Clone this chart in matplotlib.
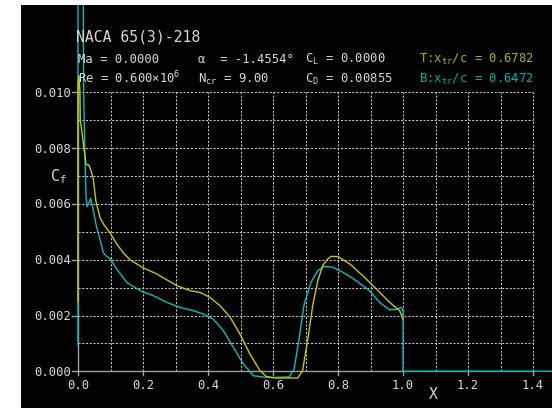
import matplotlib
matplotlib.use("Agg")
from matplotlib import pyplot as plt

plt.rcParams["font.family"] = ["DejaVu Sans Mono", "DejaVu Sans"]
plt.rcParams["mathtext.fontset"] = "custom"
plt.rcParams["mathtext.rm"] = "DejaVu Sans Mono"
plt.rcParams["mathtext.it"] = "DejaVu Sans Mono"

# skin friction, top surface (yellow)
x_top = [0.0, 0.0, 0.003, 0.006, 0.007, 0.012, 0.018, 0.025, 0.033, 0.040, 0.047,
         0.055, 0.068, 0.080, 0.098, 0.120, 0.139, 0.160, 0.200, 0.242, 0.270,
         0.304, 0.345, 0.375, 0.406, 0.437, 0.468, 0.498, 0.529, 0.560, 0.580,
         0.609, 0.640, 0.676, 0.691, 0.708, 0.723, 0.738, 0.753, 0.768, 0.779,
         0.800, 0.836, 0.876, 0.918, 0.959, 0.990, 1.000]
cf_top = [0.0025, 0.0103, 0.0106, 0.0100, 0.0090, 0.0086, 0.0080, 0.0074, 0.0074,
          0.0072, 0.0069, 0.0061, 0.0055, 0.00525, 0.00497, 0.00455, 0.00425,
          0.00400, 0.00371, 0.00349, 0.00330, 0.00307, 0.00289, 0.00283, 0.00265,
          0.00235, 0.00194, 0.00134, 0.00062, 0.00002, -0.00019, -0.00024,
          -0.00024, -0.00024, 0.00002, 0.00122, 0.00241, 0.00325, 0.00379,
          0.00402, 0.00412, 0.00411, 0.00385, 0.00343, 0.00295, 0.00247,
          0.00217, 0.00187]

# skin friction, bottom surface + wake (cyan)
x_bot = [0.0, 0.0, 0.016, 0.017, 0.019, 0.022, 0.025, 0.028, 0.032, 0.036, 0.039,
         0.043, 0.047, 0.057, 0.068, 0.078, 0.088, 0.098, 0.119, 0.150, 0.191,
         0.232, 0.273, 0.314, 0.355, 0.386, 0.416, 0.447, 0.478, 0.509, 0.540,
         0.580, 0.609, 0.650, 0.665, 0.681, 0.696, 0.717, 0.738, 0.758, 0.784,
         0.815, 0.856, 0.897, 0.928, 0.959, 0.980, 0.995, 1.0, 1.0, 1.5]
cf_bot = [0.00095, 0.0160, 0.0160, 0.0105, 0.0090, 0.0075, 0.0062, 0.0059, 0.0060,
          0.0061, 0.0062, 0.0060, 0.0058, 0.00518, 0.00471, 0.00425, 0.00412,
          0.00405, 0.00367, 0.00319, 0.00289, 0.00271, 0.00247, 0.00229, 0.00217,
          0.00205, 0.00187, 0.00146, 0.00086, 0.00026, -0.00016, -0.00022,
          -0.00022, -0.0002, 0.00008, 0.00122, 0.00241, 0.00319, 0.00361,
          0.00376, 0.00373, 0.00355, 0.00325, 0.00289, 0.00247, 0.0022, 0.00222,
          0.00229, 0.00217, 0.0, 0.0]

x_grid = [i / 10 for i in range(0, 15)]
y_grid = [i / 1000 for i in range(0, 11)]
x_labels = ["0.0", "0.2", "0.4", "0.6", "0.8", "1.0", "1.2", "1.4"]
y_labels = ["0.000", "0.002", "0.004", "0.006", "0.008", "0.010"]

yellow = "#c8c800"
cyan = "#00c0c0"
txt = "#d8d8d8"
grid_c = "#c8c8c8"

W, H = 552, 408
fig = plt.figure(figsize=(W / 100, H / 100), dpi=100, facecolor="white")
ax = fig.add_axes([21 / W, 0, (W - 21) / W, (H - 5) / H])
ax.set_facecolor("black")
ax.set_xlim((21 - 78) / 325, (W - 78) / 325)
ax.set_ylim(-(408 - 371.3) / 27.9e3, (371.3 - 5) / 27.9e3)
ax.set_xticks([])
ax.set_yticks([])
for sp in ax.spines.values():
    sp.set_visible(False)

# dotted grid
for gx in x_grid[1:]:
    ax.plot([gx, gx], [0, 0.010], color=grid_c, lw=0.75, dashes=(2, 1.6))
for gy in y_grid[1:]:
    ax.plot([0, 1.4], [gy, gy], color=grid_c, lw=0.75, dashes=(2, 1.6))

# axes lines and ticks
ax.plot([0, 1.4], [0, 0], color="#a0a0a0", lw=1.0)
ax.plot([0, 0], [0, 0.010], color="#a0a0a0", lw=1.0)
for i, lab in enumerate(y_labels):
    yv = i * 0.002
    ax.plot([-0.018, 0], [yv, yv], color="#a0a0a0", lw=1.0)
    ax.text(-0.0215, yv - 0.00016, lab, color=txt, fontsize=8.8,
            ha="right", va="baseline")
for i, lab in enumerate(x_labels):
    xv = i * 0.2
    ax.plot([xv, xv], [0, -0.00012], color="#a0a0a0", lw=1.0)
    ax.text(xv, -0.000645, lab, color=txt, fontsize=8.8, ha="center", va="baseline")

# Cf curves
ax.plot(x_bot, cf_bot, color=cyan, lw=1.0)
ax.plot(x_top, cf_top, color=yellow, lw=1.0)

ax.text(-0.0855, 0.0068, "C$_\\mathrm{f}$", color=txt, fontsize=10.6, va="baseline")
ax.text(1.094, -0.001, "X", color=txt, fontsize=10.6, ha="center", va="baseline")


def put(px, py, s, c=txt, size=8.8):
    fig.text(px / W, 1 - py / H, s, color=c, fontsize=size, va="baseline")


put(76, 42, "NACA 65(3)-218", size=10.6)
put(78, 63, "Ma = 0.0000")
put(78, 83, "Re = 0.600×10$^\\mathrm{6}$")
put(198, 63, "α  = -1.4554°")
put(198, 83, "N$_\\mathrm{cr}$ = 9.00")
put(305, 63, "C$_\\mathrm{L}$ = 0.0000")
put(305, 83, "C$_\\mathrm{D}$ = 0.00855")
put(419, 63, "T:x$_\\mathrm{tr}$/c = 0.6782", c="#b4b400")
put(419, 83, "B:x$_\\mathrm{tr}$/c = 0.6472", c="#00b0b0")

fig.savefig("out.png", dpi=100, facecolor="white")
